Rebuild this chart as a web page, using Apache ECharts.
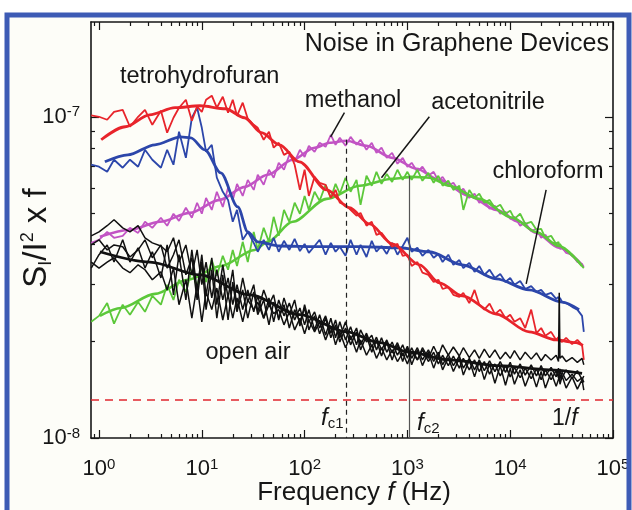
<!DOCTYPE html>
<html><head><meta charset="utf-8">
<script src="https://cdn.jsdelivr.net/npm/echarts@6/dist/echarts.min.js"></script>
<style>html,body{margin:0;padding:0;background:#fff}#c{width:632px;height:510px}</style>
</head><body><div id="c"></div>
<script>
// All S_I/I^2 x f values are in units of 1e-8
const UNIT = 1e-8;

// Frequency grid (Hz) of the measured spectra
const FREQ = [
  0.84, 1, 1.2, 1.4, 1.7, 2, 2.4, 2.8, 3.3, 4, 4.6,
  5.3, 6, 7, 8, 9, 10, 11, 12.5, 14, 16,
  18, 20, 22, 25, 28, 32, 35, 40, 45, 50,
  56, 63, 71, 80, 90, 100, 110, 125, 140, 160,
  180, 200, 220, 250, 280, 320, 350, 400, 450, 500,
  560, 630, 710, 800, 900, 1000, 1100, 1250, 1400, 1600,
  1800, 2000, 2200, 2500, 2800, 3200, 3500, 4000, 4500, 5000,
  5600, 6300, 7100, 8000, 9000, 10000, 11000, 12500, 14000, 16000,
  18000, 20000, 22000, 25000, 28000, 29500, 30000, 30500, 32000, 35000,
  40000, 45000, 50000, 52000
];

const THF = [
  10.1, 10.0, 9.79, 10.36, 10.51, 9.31, 10.0, 10.51, 9.44, 10.44, 8.92,
  9.93, 10.67, 11.3, 9.72, 10.75, 10.36, 11.3, 11.63, 10.67, 11.54,
  10.29, 11.3, 10.07, 11.06, 9.86, 9.44, 9.24, 8.48, 8.98, 8.01,
  8.30, 7.61, 7.78, 7.09, 5.92, 6.84, 5.67, 6.50, 6.23, 6.14,
  5.59, 5.92, 5.40, 5.32, 5.13, 4.92, 5.02, 4.58, 4.71, 4.29,
  4.35, 4.14, 3.94, 4.02, 3.69, 3.72, 3.43, 3.53, 3.27, 3.22,
  3.06, 3.11, 2.91, 2.95, 2.79, 2.75, 2.83, 2.63, 2.89, 2.60,
  2.51, 2.62, 2.43, 2.51, 2.36, 2.42, 2.30, 2.36, 2.20, 2.51,
  2.12, 2.20, 2.08, 2.14, 2.02, 2.06, 2.01, 2.03, 1.99, 2.05,
  1.96, 2.02, 1.95, 1.75
];
const CHLOROFORM = [
  7.09, 6.99, 6.74, 7.35, 6.94, 7.35, 6.99, 7.89, 7.35, 6.94, 7.89,
  7.09, 8.98, 7.45, 9.93, 10.67, 9.24, 7.78, 8.18, 6.46, 5.84,
  5.51, 4.71, 5.13, 4.14, 4.38, 4.05, 3.80, 4.14, 3.85, 4.20,
  3.80, 4.11, 3.85, 4.17, 3.82, 4.02, 3.77, 3.96, 4.14, 3.72,
  4.05, 3.80, 3.94, 3.69, 4.14, 3.72, 3.99, 3.66, 4.11, 3.80,
  3.96, 3.74, 4.05, 3.72, 3.96, 4.20, 3.80, 3.91, 3.69, 3.85,
  3.64, 3.74, 3.53, 3.72, 3.46, 3.58, 3.38, 3.51, 3.29, 3.43,
  3.22, 3.34, 3.15, 3.24, 3.06, 3.15, 3.00, 3.08, 2.91, 2.97,
  2.85, 2.89, 2.79, 2.83, 2.71, 2.75, 2.69, 2.73, 2.65, 2.63,
  2.56, 2.51, 2.40, 2.14
];
const METHANOL = [
  4.05, 4.14, 4.38, 4.20, 4.26, 4.51, 4.35, 4.71, 4.51, 4.85, 4.58,
  4.99, 4.74, 5.21, 4.85, 5.40, 4.99, 5.59, 5.13, 5.84, 5.24,
  6.01, 5.51, 6.18, 5.67, 6.36, 5.92, 6.60, 6.14, 6.84, 6.46,
  7.19, 6.84, 7.61, 7.24, 7.89, 7.50, 8.12, 7.78, 8.30, 8.06,
  8.79, 8.18, 8.60, 8.12, 8.66, 8.18, 8.48, 7.89, 8.30, 7.72,
  8.01, 7.45, 7.72, 7.14, 7.45, 6.99, 7.19, 6.74, 6.99, 6.55,
  6.74, 6.32, 6.50, 6.10, 6.23, 5.84, 5.97, 5.59, 5.76, 5.40,
  5.47, 5.17, 5.28, 4.99, 5.06, 4.81, 4.88, 4.58, 4.68, 4.41,
  4.48, 4.20, 4.29, 4.05, 4.05, 3.94, 3.99, 3.88, 3.91, 3.77,
  3.72, 3.53, 3.48, 3.41
];
const ACETONITRILE = [
  2.30, 2.40, 2.63, 2.27, 2.60, 2.42, 2.65, 2.47, 2.77, 2.60, 3.00,
  2.69, 3.11, 2.85, 3.34, 2.93, 3.46, 3.06, 3.58, 3.20, 3.69,
  3.34, 3.85, 3.43, 4.08, 3.53, 4.38, 3.85, 4.51, 4.08, 4.88,
  4.26, 5.13, 4.71, 5.40, 4.99, 5.67, 5.13, 5.84, 5.47, 6.14,
  5.59, 6.18, 5.76, 6.46, 5.84, 6.36, 5.32, 6.55, 6.10, 6.74,
  6.18, 6.64, 6.27, 6.84, 6.36, 6.74, 6.36, 6.84, 6.32, 6.69,
  6.23, 6.55, 6.10, 6.32, 5.92, 6.10, 5.13, 5.92, 5.59, 5.76,
  5.40, 5.51, 5.21, 5.32, 4.99, 5.10, 4.81, 4.99, 4.64, 4.71,
  4.45, 4.48, 4.20, 4.26, 4.02, 4.08, 3.96, 4.02, 3.91, 3.85,
  3.69, 3.58, 3.43, 3.38
];
const OPEN_AIR_1 = [
  4.26, 4.38, 4.58, 4.78, 4.51, 4.38, 4.58, 4.20, 4.05, 3.96, 3.80,
  4.20, 3.53, 3.99, 3.22, 3.85, 3.00, 3.53, 2.73, 3.34, 2.69,
  3.15, 2.60, 3.00, 2.51, 2.89, 2.47, 2.77, 2.36, 2.73, 2.30,
  2.69, 2.40, 2.63, 2.33, 2.54, 2.25, 2.51, 2.17, 2.42, 2.09,
  2.36, 2.05, 2.30, 2.02, 2.22, 1.95, 2.17, 1.99, 2.09, 1.88,
  2.05, 1.85, 1.99, 1.81, 1.95, 1.77, 1.91, 1.75, 1.88, 1.73,
  1.85, 1.70, 1.81, 1.68, 1.80, 1.65, 1.77, 1.63, 1.75, 1.61,
  1.73, 1.58, 1.70, 1.56, 1.68, 1.55, 1.66, 1.54, 1.65, 1.53,
  1.64, 1.52, 1.63, 1.52, 1.62, 1.54, 1.61, 1.53, 1.60, 1.51,
  1.58, 1.50, 1.54, 1.49
];
const OPEN_AIR_2 = [
  3.99, 4.14, 3.85, 3.99, 3.94, 3.66, 3.85, 4.14, 3.64, 3.99, 3.38,
  3.72, 4.14, 3.22, 3.64, 2.69, 3.53, 2.51, 3.34, 2.36, 3.22,
  2.33, 3.06, 2.47, 2.89, 2.36, 2.85, 2.42, 2.69, 2.25, 2.65,
  2.36, 2.60, 2.20, 2.51, 2.30, 2.54, 2.17, 2.40, 2.11, 2.36,
  2.05, 2.25, 1.99, 2.20, 1.95, 2.14, 1.88, 2.08, 1.85, 2.02,
  1.80, 1.99, 1.75, 1.95, 1.73, 1.91, 1.69, 1.88, 1.68, 1.85,
  1.65, 1.81, 1.63, 1.78, 1.61, 1.77, 1.57, 1.75, 1.55, 1.73,
  1.52, 1.70, 1.48, 1.68, 1.46, 1.65, 1.47, 1.63, 1.45, 1.62,
  1.44, 1.61, 1.43, 1.60, 1.45, 1.52, 1.57, 1.47, 1.56, 1.43,
  1.55, 1.42, 1.52, 1.41
];
const OPEN_AIR_3 = [
  3.53, 3.38, 3.53, 3.64, 3.38, 3.27, 3.46, 3.34, 3.11, 3.29, 2.89,
  3.38, 2.60, 3.11, 2.36, 3.00, 2.30, 2.85, 2.51, 2.93, 2.33,
  2.79, 2.36, 2.73, 2.30, 2.69, 2.51, 2.65, 2.36, 2.60, 2.44,
  2.51, 2.25, 2.47, 2.17, 2.36, 2.11, 2.33, 2.14, 2.30, 2.02,
  2.23, 1.95, 2.14, 1.91, 2.08, 1.85, 2.02, 1.81, 1.95, 1.77,
  1.91, 1.75, 1.88, 1.73, 1.84, 1.70, 1.85, 1.75, 1.91, 1.77,
  1.93, 1.80, 1.95, 1.81, 1.92, 1.80, 1.91, 1.78, 1.88, 1.77,
  1.89, 1.78, 1.88, 1.76, 1.85, 1.77, 1.87, 1.75, 1.85, 1.76,
  1.84, 1.74, 1.82, 1.75, 1.81, 1.73, 2.83, 1.77, 1.80, 1.73,
  1.78, 1.72, 1.77, 1.69
];
const OPEN_AIR_4 = [
  3.38, 3.72, 3.99, 3.53, 4.14, 3.53, 3.91, 3.38, 3.80, 3.15, 3.99,
  2.79, 3.72, 2.69, 3.85, 2.89, 3.72, 2.77, 3.64, 2.60, 3.46,
  2.73, 3.34, 2.51, 3.15, 2.65, 3.00, 2.47, 2.89, 2.60, 2.79,
  2.33, 2.73, 2.42, 2.69, 2.23, 2.60, 2.30, 2.47, 2.20, 2.40,
  2.12, 2.33, 2.05, 2.30, 2.02, 2.20, 1.95, 2.12, 1.92, 2.06,
  1.88, 2.02, 1.84, 1.98, 1.80, 1.93, 1.77, 1.91, 1.75, 1.88,
  1.73, 1.85, 1.69, 1.82, 1.68, 1.80, 1.65, 1.77, 1.63, 1.75,
  1.62, 1.74, 1.61, 1.73, 1.60, 1.72, 1.58, 1.70, 1.57, 1.69,
  1.56, 1.68, 1.56, 1.66, 1.55, 1.65, 1.54, 1.64, 1.54, 1.63,
  1.53, 1.62, 1.52, 1.56
];

// Smooth fits (frequency, value)
const THF_FIT_F = [1.05, 1.8, 3.1, 5.5, 9.6, 17, 26, 38, 57, 89, 164, 273, 428, 715, 1310, 2050, 3420, 7310, 15300, 28000, 43700, 51000];
const THF_FIT   = [8.48, 9.31, 10.14, 10.67, 10.82, 10.59, 9.93, 8.92, 8.18, 7.24, 5.92, 5.21, 4.64, 4.02, 3.46, 3.04, 2.77, 2.43, 2.14, 2.02, 1.98, 1.94];
const CHL_FIT_F = [1.14, 1.91, 3.5, 6.25, 7.82, 10.7, 15.3, 22.4, 28, 35, 57, 140, 342, 836, 1635, 3420, 7310, 15300, 32000, 46800];
const CHL_FIT   = [7.24, 7.61, 8.18, 8.66, 8.60, 7.89, 6.69, 5.24, 4.38, 4.08, 3.96, 3.94, 3.94, 3.91, 3.80, 3.46, 3.13, 2.89, 2.65, 2.51];
const MET_FIT_F = [1.02, 2.0, 3.91, 7.65, 14.9, 26.2, 43.7, 76.5, 125, 175, 256, 400, 715, 1223, 2045, 4000, 7310, 12220, 17880, 29900, 50000];
const MET_FIT   = [4.23, 4.45, 4.71, 5.02, 5.51, 6.05, 6.60, 7.35, 8.01, 8.30, 8.42, 8.12, 7.45, 6.89, 6.36, 5.67, 5.13, 4.71, 4.35, 3.91, 3.46];
const ACN_FIT_F = [1.02, 1.64, 3.5, 7.31, 15.3, 32.7, 43.7, 76.5, 164, 342, 715, 1118, 1635, 2557, 5000, 10460, 17880, 29900, 50000];
const ACN_FIT   = [2.40, 2.54, 2.81, 3.11, 3.43, 3.85, 4.08, 4.71, 5.55, 6.10, 6.41, 6.50, 6.46, 6.10, 5.55, 4.85, 4.38, 3.96, 3.43];
const AIR_FIT_F = [1.02, 3.13, 9.56, 29.2, 89.4, 256, 535, 1045, 2557, 7817, 23900, 50000];
const AIR_FIT   = [3.80, 3.53, 3.22, 2.79, 2.42, 2.14, 1.98, 1.85, 1.75, 1.68, 1.63, 1.59];

// Marker values
const FC1 = 256, FC1_TOP = 8.48;     // f_c1 (Hz), top of dashed line
const FC2 = 1045, FC2_TOP = 6.55;    // f_c2 (Hz), top of solid line
const FLOOR_LEVEL = 1.32;            // red dashed background level

// Tick labels (decade exponents)
const X_TICK_EXP = [0, 1, 2, 3, 4, 5];
const Y_TICK_EXP = [-8, -7];

const lg = Math.log10;
const XMIN = -0.078, XMAX = 5, YMIN = -8, YMAX = -6.705;
const FONT = "'Liberation Sans', Arial, Helvetica, sans-serif";
const INK = '#161616';

const xy = (fs, vs) => fs.map((f, i) => [lg(f), lg(vs[i] * UNIT)]);
const pt = (f, v) => [lg(f), lg(v * UNIT)];

const xMinor = [], yMinor = [];
for (let d = -1; d < 5; d++) for (let k = 2; k < 10; k++) { const v = lg(k) + d; if (v > XMIN && v < XMAX) xMinor.push(v); }
for (let d = -8; d < -6; d++) for (let k = 2; k < 10; k++) { const v = lg(k) + d; if (v > YMIN && v < YMAX) yMinor.push(v); }

const labelRich = {
  b: { fontSize: 22, fontFamily: FONT, color: INK, lineHeight: 24 },
  s: { fontSize: 15, fontFamily: FONT, color: INK, verticalAlign: 'top', lineHeight: 8 }
};

function xAx(pos, major, labels) {
  return {
    type: 'value', position: pos, min: XMIN, max: XMAX,
    axisLine: { show: major, onZero: false, lineStyle: { color: INK, width: 1.6 } },
    axisTick: { show: true, inside: true, length: major ? 8 : 4, customValues: major ? X_TICK_EXP : xMinor, lineStyle: { color: INK, width: 1.2 } },
    axisLabel: { show: labels, customValues: X_TICK_EXP, margin: 19, formatter: v => '{b|10}{s|' + Math.round(v) + '}', rich: labelRich },
    splitLine: { show: false }
  };
}
function yAx(pos, major, labels) {
  return {
    type: 'value', position: pos, min: YMIN, max: YMAX,
    axisLine: { show: major, onZero: false, lineStyle: { color: INK, width: 1.6 } },
    axisTick: { show: true, inside: true, length: major ? 8 : 4, customValues: major ? Y_TICK_EXP : yMinor, lineStyle: { color: INK, width: 1.2 } },
    axisLabel: { show: labels, customValues: Y_TICK_EXP, margin: 11, formatter: v => '{b|10}{s|' + Math.round(v) + '}', rich: labelRich },
    splitLine: { show: false }
  };
}

const RED = '#e8242b', BLUE = '#2c46aa', MAG = '#c254c4', GREEN = '#5cc83a', BLACK = '#111111';

function noisy(name, vals, color, w, z) {
  return { type: 'line', name, data: xy(FREQ, vals), symbol: 'none', showSymbol: false,
    lineStyle: { color, width: w }, itemStyle: { color }, animation: false, silent: true, z };
}
function fit(name, fs, vs, color, w, z) {
  return { type: 'line', name, data: xy(fs, vs), symbol: 'none', showSymbol: false, smooth: 0.3, smoothMonotone: 'x',
    lineStyle: { color, width: w }, itemStyle: { color }, animation: false, silent: true, z };
}

const lineSeg = (a, b, style) => [
  { coord: a, lineStyle: style, symbol: 'none' },
  { coord: b, symbol: 'none' }
];

const markers = {
  type: 'line', name: 'markers', data: [], symbol: 'none', animation: false, silent: true, z: 6,
  markLine: {
    silent: true, animation: false, symbol: 'none', label: { show: false },
    emphasis: { disabled: true },
    data: [
      lineSeg(pt(FC1, FC1_TOP), [lg(FC1), YMIN], { color: '#222', width: 1.2, type: [5, 4] }),
      lineSeg(pt(FC2, FC2_TOP), [lg(FC2), YMIN], { color: '#555', width: 1.2, type: 'solid' }),
      lineSeg([XMIN, lg(FLOOR_LEVEL * UNIT)], [XMAX, lg(FLOOR_LEVEL * UNIT)], { color: '#e0262e', width: 1.6, type: [8, 6] }),
      lineSeg(pt(244, 10.3), pt(179, 8.66), { color: INK, width: 1.5, type: 'solid' }),
      lineSeg(pt(1635, 10.0), pt(559, 6.46), { color: INK, width: 1.5, type: 'solid' }),
      lineSeg(pt(22360, 5.92), pt(14300, 3.02), { color: INK, width: 1.5, type: 'solid' })
    ]
  }
};

const txt = (x, y, text, size, extra) => ({
  type: 'text', x, y, z: 100, silent: true,
  style: Object.assign({ text, fontSize: size, fontFamily: FONT, fill: INK, align: 'left', verticalAlign: 'middle' }, extra || {})
});

const chart = echarts.init(document.getElementById('c'), null, { renderer: 'canvas' });
chart.setOption({
  backgroundColor: '#ffffff',
  animation: false,
  grid: { left: 91, right: 19, top: 22, bottom: 72, containLabel: false, outerBoundsMode: 'none' },
  xAxis: [xAx('bottom', true, true), xAx('bottom', false, false), xAx('top', true, false), xAx('top', false, false)],
  yAxis: [yAx('left', true, true), yAx('left', false, false), yAx('right', true, false), yAx('right', false, false)],
  series: [
    noisy('methanol', METHANOL, MAG, 1.8, 3),
    fit('methanol fit', MET_FIT_F, MET_FIT, MAG, 2.6, 3),
    noisy('acetonitrile', ACETONITRILE, GREEN, 1.8, 3),
    fit('acetonitrile fit', ACN_FIT_F, ACN_FIT, GREEN, 2.6, 3),
    noisy('chloroform', CHLOROFORM, BLUE, 1.8, 4),
    fit('chloroform fit', CHL_FIT_F, CHL_FIT, BLUE, 2.8, 4),
    noisy('tetrohydrofuran', THF, RED, 1.8, 4),
    fit('tetrohydrofuran fit', THF_FIT_F, THF_FIT, RED, 2.8, 4),
    noisy('open air 1', OPEN_AIR_1, BLACK, 1.5, 5),
    noisy('open air 2', OPEN_AIR_2, BLACK, 1.5, 5),
    noisy('open air 3', OPEN_AIR_3, BLACK, 1.5, 5),
    noisy('open air 4', OPEN_AIR_4, BLACK, 1.5, 5),
    fit('open air fit', AIR_FIT_F, AIR_FIT, BLACK, 2.8, 5),
    markers
  ],
  graphic: [
    { type: 'rect', z: -5, silent: true, shape: { x: 9, y: 17, width: 618, height: 600 }, style: { fill: '#fdfdf8' } },
    { type: 'rect', z: 50, silent: true, shape: { x: 7, y: 15, width: 622, height: 600 }, style: { fill: 'none', stroke: '#3d5bb5', lineWidth: 5 } },
    txt(609, 44, 'Noise in Graphene Devices', 25, { align: 'right' }),
    txt(120, 77, 'tetrohydrofuran', 23.5),
    txt(353, 101, 'methanol', 23.5, { align: 'center' }),
    txt(488, 103, 'acetonitrile', 23.5, { align: 'center' }),
    txt(548, 172, 'chloroform', 23.5, { align: 'center' }),
    txt(248, 353, 'open air', 23.5, { align: 'center' }),
    txt(321, 418, '{i|f}{sub|c1}', 22, { rich: {
      i: { fontSize: 24, fontStyle: 'italic', fontFamily: FONT, fill: INK, lineHeight: 26 },
      sub: { fontSize: 15, fontFamily: FONT, fill: INK, verticalAlign: 'bottom', lineHeight: 10 } } }),
    txt(417, 423, '{i|f}{sub|c2}', 22, { rich: {
      i: { fontSize: 24, fontStyle: 'italic', fontFamily: FONT, fill: INK, lineHeight: 26 },
      sub: { fontSize: 15, fontFamily: FONT, fill: INK, verticalAlign: 'bottom', lineHeight: 6 } } }),
    txt(552, 419, '{n|1/}{i|f}', 22, { rich: {
      n: { fontSize: 23, fontFamily: FONT, fill: INK },
      i: { fontSize: 23, fontStyle: 'italic', fontFamily: FONT, fill: INK } } }),
    txt(354, 493, '{n|Frequency }{i|f}{n| (Hz)}', 26, { align: 'center', rich: {
      n: { fontSize: 26, fontFamily: FONT, fill: INK },
      i: { fontSize: 26, fontStyle: 'italic', fontFamily: FONT, fill: INK } } }),
    { type: 'text', x: 37, y: 238, rotation: Math.PI / 2, z: 100, silent: true,
      style: { text: '{m|S}{sub|I}{m|/I}{sup|2}{m| x f}', align: 'center', verticalAlign: 'middle', fill: INK,
        rich: {
          m: { fontSize: 33, fontFamily: FONT, fill: INK, lineHeight: 36 },
          sub: { fontSize: 18, fontFamily: FONT, fill: INK, verticalAlign: 'bottom', lineHeight: 12 },
          sup: { fontSize: 18, fontFamily: FONT, fill: INK, verticalAlign: 'top', lineHeight: 12 }
        } } }
  ]
});
</script>
</body></html>
